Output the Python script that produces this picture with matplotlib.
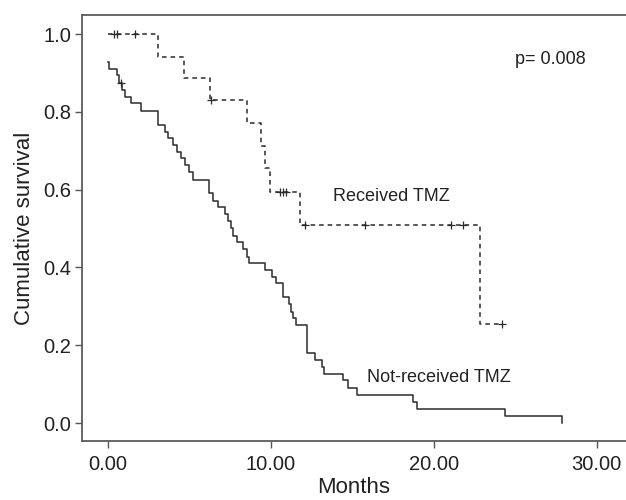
import matplotlib
matplotlib.use("Agg")
import matplotlib.pyplot as plt
import numpy as np

plt.rcParams["font.family"] = ["Liberation Sans", "DejaVu Sans"]

# Not-received TMZ: step times (months) and survival after each step
nr_times = [0.0, 0.06, 0.57, 0.67, 0.84, 1.04, 1.41, 2.0, 3.05, 3.5, 3.70, 3.97,
            4.25, 4.48, 4.72, 4.99, 5.2, 6.22, 6.46, 6.74, 7.18, 7.38, 7.54, 7.69,
            7.9, 8.3, 8.55, 8.67, 9.63, 10.04, 10.29, 10.72, 11.12, 11.23, 11.33,
            11.53, 12.19, 12.70, 13.11, 13.25, 14.44, 14.75, 15.3, 18.73, 18.98,
            24.36, 27.9]
nr_surv = [0.928, 0.911, 0.895, 0.875, 0.857, 0.839, 0.822, 0.803, 0.766, 0.749,
           0.732, 0.715, 0.698, 0.681, 0.664, 0.646, 0.625, 0.591, 0.572, 0.555,
           0.537, 0.520, 0.501, 0.481, 0.466, 0.447, 0.428, 0.412, 0.393, 0.376,
           0.359, 0.324, 0.307, 0.286, 0.269, 0.252, 0.180, 0.163, 0.144, 0.125,
           0.110, 0.091, 0.071, 0.054, 0.037, 0.019, 0.0]
nr_censor = [0.78]

# Received TMZ
rc_times = [0.0, 3.05, 4.66, 6.26, 8.5, 9.36, 9.63, 9.94, 11.78, 22.82, 24.2]
rc_surv = [1.0, 0.942, 0.887, 0.831, 0.772, 0.711, 0.655, 0.593, 0.509, 0.256, 0.256]
rc_censor = [0.37, 0.53, 1.66, 6.32, 10.55, 10.75, 10.92, 12.09, 15.77, 21.04, 21.8, 24.2]

x_ticks = [0, 10, 20, 30]
y_ticks = [0.0, 0.2, 0.4, 0.6, 0.8, 1.0]

line_color = "#2b2b2b"
text_color = "#222222"


def censor_y(times, surv, censor):
    idx = np.searchsorted(times, censor, side="right") - 1
    return np.asarray(surv)[idx]


fig = plt.figure(figsize=(6.26, 5.0), dpi=100)
ax = fig.add_axes([0.131, 0.118, 0.869, 0.852])

ax.step(nr_times, nr_surv, where="post", color=line_color, linewidth=1.1)
ax.plot(nr_censor, censor_y(nr_times, nr_surv, nr_censor), linestyle="none",
        marker="+", markersize=6, markeredgewidth=0.9, color=line_color)

ax.step(rc_times, rc_surv, where="post", color=line_color, linewidth=1.1,
        linestyle=(0, (3.0, 2.6)))
ax.plot(rc_censor, censor_y(rc_times, rc_surv, rc_censor), linestyle="none",
        marker="+", markersize=6, markeredgewidth=0.9, color=line_color)

ax.text(13.79, 0.582, "Received TMZ", fontsize=13, color=text_color,
        ha="left", va="center")
ax.text(15.87, 0.118, "Not-received TMZ", fontsize=13, color=text_color,
        ha="left", va="center")
ax.text(25.0, 0.934, "p= 0.008", fontsize=13, color=text_color,
        ha="left", va="center")

ax.set_xlim(-1.6, 31.8)
ax.set_ylim(-0.046, 1.049)
ax.set_xticks(x_ticks)
ax.set_xticklabels([f"{v:.2f}" for v in x_ticks])
ax.set_yticks(y_ticks)
ax.set_yticklabels([f"{v:.1f}" for v in y_ticks])
ax.tick_params(direction="out", length=5, width=1, colors="#555555",
               labelsize=14.5, labelcolor=text_color, pad=3)
ax.tick_params(axis="x", pad=5)

for side in ["left", "top", "bottom"]:
    ax.spines[side].set_color("#5a5a5a")
    ax.spines[side].set_linewidth(1.3)
ax.spines["right"].set_visible(False)

ax.set_xlabel("Months", fontsize=16, color=text_color, labelpad=2)
ax.set_ylabel("Cumulative survival", fontsize=16, color=text_color, labelpad=6)

fig.savefig("out.png", dpi=100)
